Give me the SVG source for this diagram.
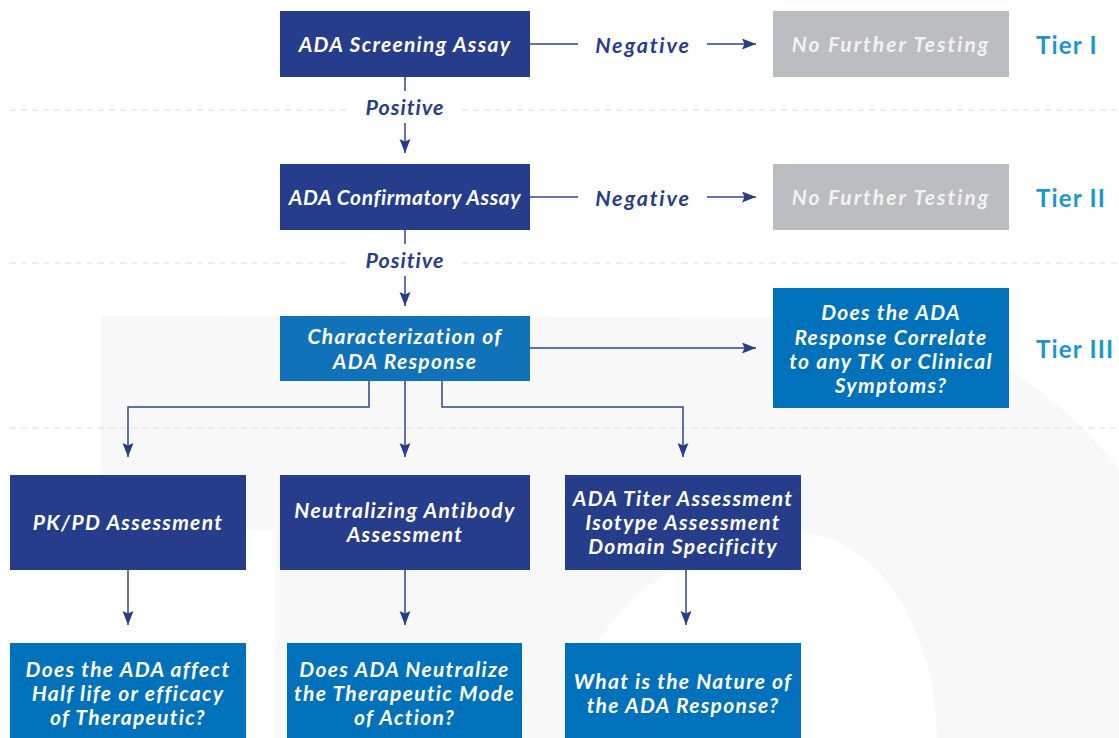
<svg xmlns="http://www.w3.org/2000/svg" width="1119" height="738" viewBox="0 0 1119 738">
<style>
.navy{fill:#263d8c}
.blue{fill:#0071bb}
.mid{fill:#1072b9}
.gray{fill:#bcbdc0}
.t{font-family:Lato,"Liberation Sans",sans-serif;font-weight:700;font-style:italic;font-size:21px;letter-spacing:1.3px;text-anchor:middle;fill:#ffffff}
.tg{fill:#f2f2f3;letter-spacing:2px}
.tight{letter-spacing:0.6px}
.lab{font-family:Lato,"Liberation Sans",sans-serif;font-weight:700;font-style:italic;font-size:21.5px;letter-spacing:1.8px;text-anchor:middle;fill:#263d8c}
.pos{letter-spacing:1px}
.tier{font-family:Lato,"Liberation Sans",sans-serif;font-weight:700;font-size:24px;letter-spacing:1.2px;fill:#1a96d5}
.dash{stroke:#dddddd;stroke-width:1.2;stroke-dasharray:6 5;fill:none}
.c{stroke:#2f448f;stroke-width:1.5;fill:none}
.ca{stroke:#2f448f;stroke-width:1.5;fill:none;marker-end:url(#ah)}
</style>
<defs>
<marker id="ah" markerUnits="userSpaceOnUse" markerWidth="15" markerHeight="12" refX="14" refY="5.5" orient="auto">
<path d="M0,0 L14,5.5 L0,11 L2.5,5.5 Z" fill="#263d8c"/>
</marker>
</defs>
<rect width="1119" height="738" fill="#ffffff"/>
<g id="watermark">
<path d="M101,316 L850,318 C950,320 1060,390 1119,470 L1119,738 L275,738 L275,530 L101,530 Z" fill="#f8f8f8"/>
<path d="M570,738 C565,640 670,533 798,533 C870,533 935,620 937,738 Z" fill="#ffffff"/>
</g>
<g id="tier-lines">
<path class="dash" d="M10,110 H347 M462,110 H1119"/>
<path class="dash" d="M10,263 H347 M462,263 H1119"/>
<path class="dash" d="M10,428 H1119"/>
</g>
<g id="connectors">
<path class="c" d="M405,77 V91"/>
<path class="ca" d="M405,123 V153"/>
<path class="c" d="M530,44 H578"/>
<path class="ca" d="M707,44 H756"/>
<path class="c" d="M405,230 V244"/>
<path class="ca" d="M405,276 V306"/>
<path class="c" d="M530,197 H578"/>
<path class="ca" d="M707,197 H756"/>
<path class="ca" d="M530,348 H756"/>
<path class="ca" d="M369,381 V407 H128 V457"/>
<path class="ca" d="M405,381 V457"/>
<path class="ca" d="M442,381 V407 H683 V457"/>
<path class="ca" d="M128,570 V625"/>
<path class="ca" d="M405,570 V625"/>
<path class="ca" d="M686,570 V625"/>
<text class="lab pos" x="405" y="115">Positive</text>
<text class="lab pos" x="405" y="268">Positive</text>
<text class="lab" x="643" y="52.5">Negative</text>
<text class="lab" x="643" y="205.5">Negative</text>
</g>
<g id="screening">
<rect class="navy" x="280" y="11" width="250" height="66"/>
<text class="t" x="405" y="51.5">ADA Screening Assay</text>
</g>
<g id="nft1">
<rect class="gray" x="773" y="11" width="236" height="66"/>
<text class="t tg" x="891" y="52">No Further Testing</text>
</g>
<g id="tier1"><text class="tier" x="1036" y="53.5">Tier I</text></g>
<g id="confirmatory">
<rect class="navy" x="280" y="164" width="250" height="66"/>
<text class="t tight" x="405" y="204.5">ADA Confirmatory Assay</text>
</g>
<g id="nft2">
<rect class="gray" x="773" y="164" width="236" height="66"/>
<text class="t tg" x="891" y="205">No Further Testing</text>
</g>
<g id="tier2"><text class="tier" x="1036" y="206.5">Tier II</text></g>
<g id="characterization">
<rect class="mid" x="280" y="316" width="250" height="65"/>
<text class="t" x="405" y="343.5">Characterization of</text>
<text class="t" x="405" y="368.5">ADA Response</text>
</g>
<g id="correlate">
<rect class="blue" x="773" y="288" width="236" height="120"/>
<text class="t" x="891" y="320">Does the ADA</text>
<text class="t" x="891" y="344.5">Response Correlate</text>
<text class="t" x="891" y="368.5">to any TK or Clinical</text>
<text class="t" x="891" y="392.5">Symptoms?</text>
</g>
<g id="tier3"><text class="tier" x="1036" y="357.5">Tier III</text></g>
<g id="pkpd">
<rect class="navy" x="10" y="475" width="236" height="95"/>
<text class="t" x="128" y="530">PK/PD Assessment</text>
</g>
<g id="nab">
<rect class="navy" x="280" y="475" width="250" height="95"/>
<text class="t" x="405" y="518">Neutralizing Antibody</text>
<text class="t" x="405" y="542">Assessment</text>
</g>
<g id="titer">
<rect class="navy" x="565" y="475" width="236" height="95"/>
<text class="t" x="683" y="506">ADA Titer Assessment</text>
<text class="t" x="683" y="530">Isotype Assessment</text>
<text class="t" x="683" y="554">Domain Specificity</text>
</g>
<g id="halflife">
<rect class="blue" x="10" y="643" width="236" height="95"/>
<text class="t" x="128" y="677">Does the ADA affect</text>
<text class="t" x="128" y="701">Half life or efficacy</text>
<text class="t" x="128" y="725">of Therapeutic?</text>
</g>
<g id="neutralize">
<rect class="blue" x="287" y="643" width="235" height="95"/>
<text class="t" x="404.5" y="677">Does ADA Neutralize</text>
<text class="t" x="404.5" y="701">the Therapeutic Mode</text>
<text class="t" x="404.5" y="725">of Action?</text>
</g>
<g id="nature">
<rect class="blue" x="565" y="643" width="236" height="95"/>
<text class="t" x="683" y="689">What is the Nature of</text>
<text class="t" x="683" y="713">the ADA Response?</text>
</g>
</svg>
